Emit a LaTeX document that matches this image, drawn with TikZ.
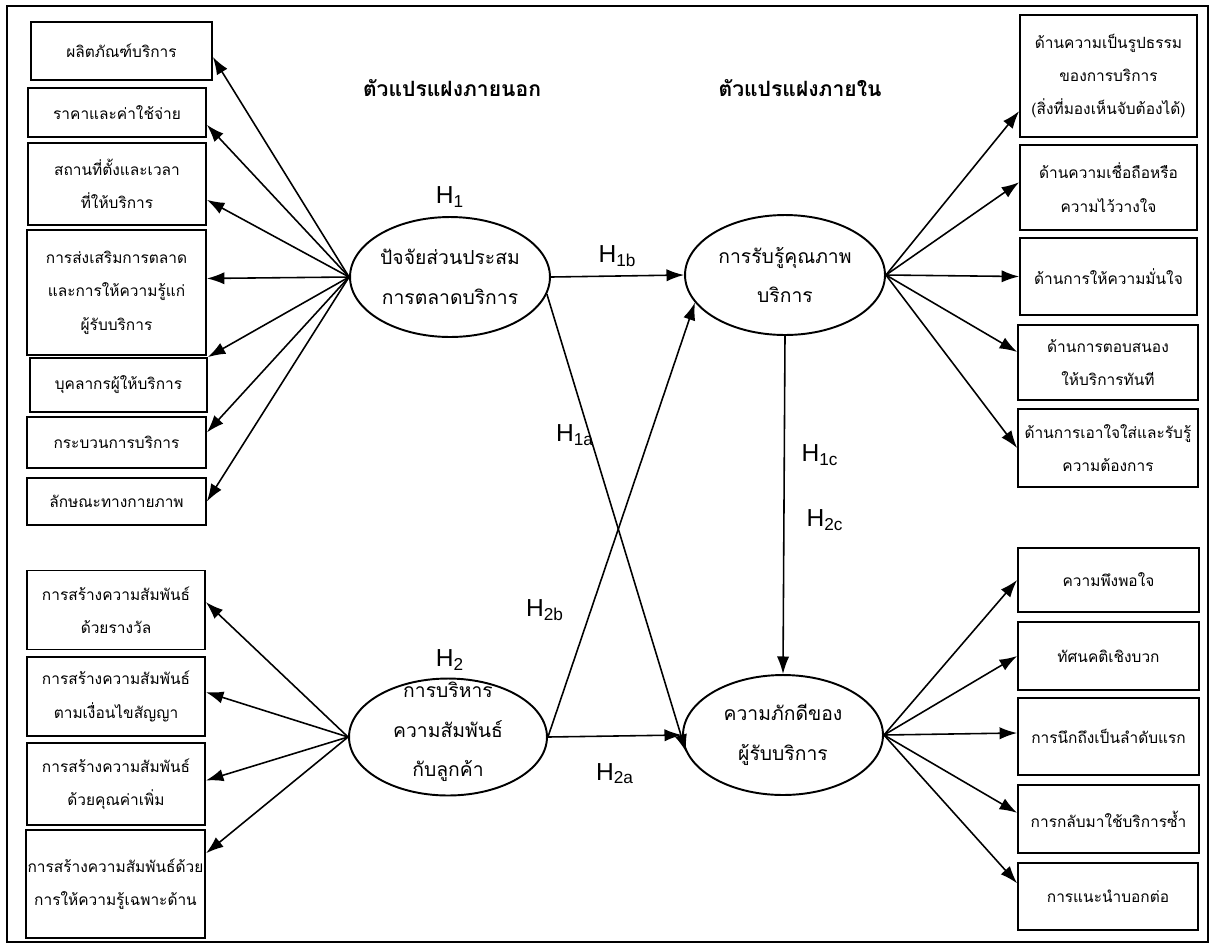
\documentclass[tikz,border=0pt]{standalone}
\usepackage{fontspec}
\setmainfont{Liberation Sans}
\newfontfamily\thaifont[Script=Thai]{Loma}
\usetikzlibrary{shapes.geometric,arrows.meta}
\begin{document}
\begin{tikzpicture}[x=0.02cm,y=-0.02cm]
	\tikzstyle{ind box}=[rectangle,draw,line width=1pt,inner sep=1pt,align=center,font=\thaifont\fontsize{8.8}{19}\selectfont]
	\tikzstyle{latent}=[ellipse,draw,line width=1.1pt,minimum width=4cm,minimum height=2.4cm,inner sep=0pt]
	\tikzset{
		latent text/.style={align=center,inner sep=0pt,font=\thaifont\fontsize{11}{22.5}\selectfont},
		side title/.style={font=\thaifont\bfseries\fontsize{12}{14}\selectfont},
		hyp/.style={font=\fontsize{14}{16}\selectfont,inner sep=1pt},
		path/.style={line width=0.9pt,-{Latex[length=10pt,width=7pt]}}
	}
	\useasboundingbox (0,0) rectangle (1214,948);
	\draw[line width=0.9pt] (7,6) rectangle (1208,942);
	\node(ttlout)[side title] at (452,88) {ตัวแปรแฝงภายนอก};
	\node(ttlin)[side title] at (800,88) {ตัวแปรแฝงภายใน};
	\node(L1)[ind box,minimum width=3.62cm,minimum height=1.16cm] at (121.5,51) {ผลิตภัณฑ์บริการ};
	\node(L2)[ind box,minimum width=3.56cm,minimum height=0.98cm] at (117,112.5) {ราคาและค่าใช้จ่าย};
	\node(L3)[ind box,minimum width=3.56cm,minimum height=1.64cm] at (117,184) {สถานที่ตั้งและเวลา\\ที่ให้บริการ};
	\node(L4)[ind box,minimum width=3.58cm,minimum height=2.5cm] at (116.5,292.5) {การส่งเสริมการตลาด\\และการให้ความรู้แก่\\ผู้รับบริการ};
	\node(L5)[ind box,minimum width=3.54cm,minimum height=1.08cm] at (118.5,385) {บุคลากรผู้ให้บริการ};
	\node(L6)[ind box,minimum width=3.58cm,minimum height=1.02cm] at (116.5,442.5) {กระบวนการบริการ};
	\node(L7)[ind box,minimum width=3.58cm,minimum height=0.94cm] at (116.5,501.5) {ลักษณะทางกายภาพ};
	\node(L8)[ind box,minimum width=3.56cm,minimum height=1.58cm] at (116,610) {การสร้างความสัมพันธ์\\ด้วยรางวัล};
	\node(L9)[ind box,minimum width=3.56cm,minimum height=1.58cm] at (116,696.5) {การสร้างความสัมพันธ์\\ตามเงื่อนไขสัญญา};
	\node(L10)[ind box,minimum width=3.56cm,minimum height=1.64cm] at (116,784) {การสร้างความสัมพันธ์\\ด้วยคุณค่าเพิ่ม};
	\node(L11)[ind box,minimum width=3.58cm,minimum height=2.16cm] at (115.5,884) {การสร้างความสัมพันธ์ด้วย\\การให้ความรู้เฉพาะด้าน};
	\node(R1)[ind box,minimum width=3.54cm,minimum height=2.44cm] at (1108.5,76) {ด้านความเป็นรูปธรรม\\ของการบริการ\\(สิ่งที่มองเห็นจับต้องได้)};
	\node(R2)[ind box,minimum width=3.54cm,minimum height=1.7cm] at (1108.5,187.5) {ด้านความเชื่อถือหรือ\\ความไว้วางใจ};
	\node(R3)[ind box,minimum width=3.54cm,minimum height=1.54cm] at (1108.5,276.5) {ด้านการให้ความมั่นใจ};
	\node(R4)[ind box,minimum width=3.6cm,minimum height=1.5cm] at (1108,362.5) {ด้านการตอบสนอง\\ให้บริการทันที};
	\node(R5)[ind box,minimum width=3.6cm,minimum height=1.56cm] at (1108,448) {ด้านการเอาใจใส่และรับรู้\\ความต้องการ};
	\node(R6)[ind box,minimum width=3.62cm,minimum height=1.28cm] at (1108.5,580) {ความพึงพอใจ};
	\node(R7)[ind box,minimum width=3.62cm,minimum height=1.36cm] at (1108.5,656) {ทัศนคติเชิงบวก};
	\node(R8)[ind box,minimum width=3.62cm,minimum height=1.54cm] at (1108.5,736.5) {การนึกถึงเป็นลำดับแรก};
	\node(R9)[ind box,minimum width=3.62cm,minimum height=1.36cm] at (1108.5,819) {การกลับมาใช้บริการซ้ำ};
	\node(R10)[ind box,minimum width=3.6cm,minimum height=1.34cm] at (1108,896.5) {การแนะนำบอกต่อ};
	\node(mix)[latent] at (450,277) {};
	\node(mixtxt)[latent text] at (mix) {ปัจจัยส่วนประสม\\การตลาดบริการ};
	\node(qual)[latent] at (785,275) {};
	\node(qualtxt)[latent text] at (qual) {การรับรู้คุณภาพ\\บริการ};
	\node(loyal)[latent] at (783,735) {};
	\node(loyaltxt)[latent text] at (loyal) {ความภักดีของ\\ผู้รับบริการ};
	\node(crm)[latent,minimum height=2.34cm,minimum width=3.96cm] at (448,737) {};
	\node(crmtxt)[latent text] at (448,732) {การบริหาร\\ความสัมพันธ์\\กับลูกค้า};
	\node(h1)[hyp] at (450,197) {H\textsubscript{1}};
	\node(h2)[hyp] at (450,660) {H\textsubscript{2}};
	\path (mix.west)
		edge[path] ([yshift=-3.4pt]L1.east)
		edge[path] ([yshift=-7pt]L2.east)
		edge[path] ([yshift=-9pt]L3.east)
		edge[path] ([yshift=8pt]L4.east)
		edge[path] (L5.north east)
		edge[path] ([yshift=5.7pt]L6.east)
		edge[path] (L7.east);
	\path (crm.west)
		edge[path] ([yshift=4.5pt]L8.east)
		edge[path] ([yshift=2.5pt]L9.east)
		edge[path] ([yshift=2pt]L10.east)
		edge[path] ([yshift=17.5pt]L11.east);
	\path (qual.east)
		edge[path] ([yshift=-20pt]R1.west)
		edge[path] ([yshift=3pt]R2.west)
		edge[path] (R3.west)
		edge[path] ([yshift=6pt]R4.west)
		edge[path] (R5.west);
	\path (loyal.east)
		edge[path] (R6.west)
		edge[path] (R7.west)
		edge[path] ([yshift=2pt]R8.west)
		edge[path] ([yshift=3.5pt]R9.west)
		edge[path] ([yshift=7.5pt]R10.west);
	\draw[path] (mix.east) -- node[hyp,above,yshift=4pt]{H\textsubscript{1b}} (qual.west);
	\draw[path] (mix.-10) -- (loyal.190);
	\draw[path] (crm.east) -- (qual.197);
	\draw[path] (crm.east) -- node[hyp,below,yshift=-14pt]{H\textsubscript{2a}} (loyal.west);
	\draw[path] (qual.south) -- (loyal.north);
	\node(h1a)[hyp] at (575,435) {H\textsubscript{1a}};
	\node(h2b)[hyp] at (545,610) {H\textsubscript{2b}};
	\node(h1c)[hyp] at (820,455) {H\textsubscript{1c}};
	\node(h2c)[hyp] at (825,520) {H\textsubscript{2c}};
\end{tikzpicture}
\end{document}
